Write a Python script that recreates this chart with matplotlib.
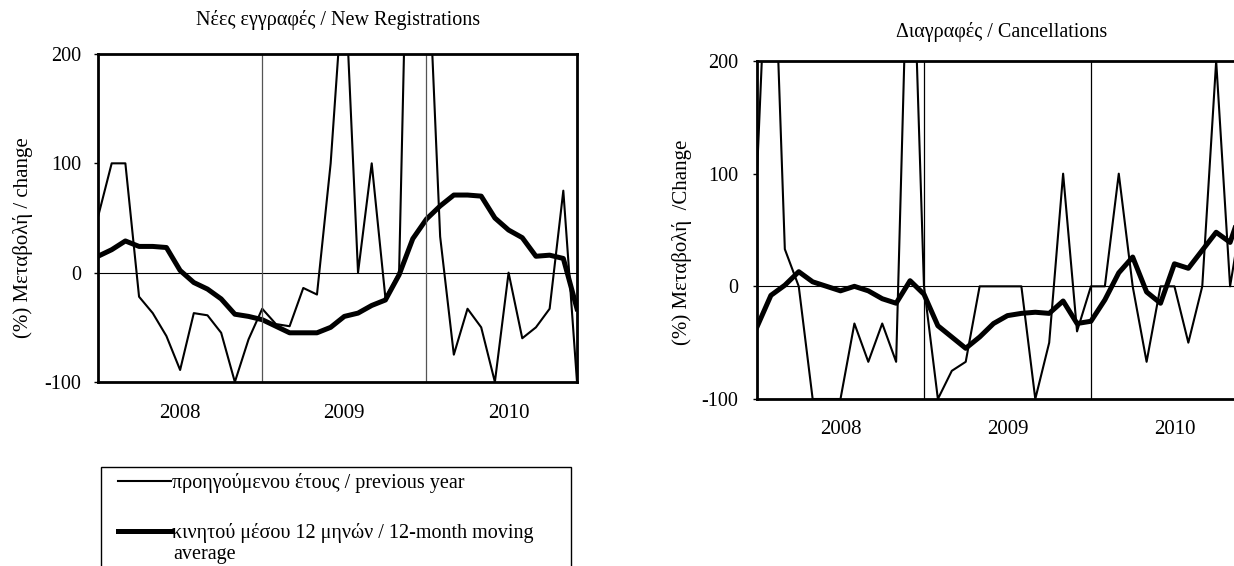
import matplotlib
matplotlib.use('Agg')
import matplotlib.pyplot as plt
from matplotlib.patches import Rectangle
from matplotlib.transforms import blended_transform_factory

plt.rcParams['font.family'] = ['Liberation Serif', 'DejaVu Serif']
plt.rcParams['font.size'] = 14.5
plt.rcParams['axes.unicode_minus'] = False

# monthly points, Jan 2008 - Dec 2010
months = list(range(36))
years = ['2008', '2009', '2010']
year_pos = [6, 18, 30]
year_lines = [12, 24]

# Nees eggrafes / New registrations
new_prev = [51, 100, 100, -22, -37, -58, -89, -37, -39, -55, -100, -61,
            -33, -47, -49, -14, -20, 100, 280, 0, 100, -23, 0, 560,
            325, 33, -75, -33, -50, -100, 0, -60, -50, -33, 75, -100]
new_ma = [15, 21, 29, 24, 24, 23, 2, -9, -15, -24, -38, -40,
          -43, -49, -55, -55, -55, -50, -40, -37, -30, -25, -2, 31,
          49, 61, 71, 71, 70, 50, 39, 32, 15, 16, 13, -33]

# Diagrafes / Cancellations
canc_prev = [100, 390, 33, 0, -100, -100, -100, -33, -67, -33, -67, 390,
             0, -100, -75, -67, 0, 0, 0, 0, -100, -50, 100, -40,
             0, 0, 100, 0, -67, 0, 0, -50, 0, 200, 0, 75]
canc_ma = [-36, -8, 1, 13, 4, 0, -4, 0, -4, -11, -15, 5,
           -7, -35, -45, -55, -45, -33, -26, -24, -23, -24, -13, -33,
           -31, -12, 12, 26, -5, -15, 20, 16, 32, 48, 39, 75]

yticks = [-100, 0, 100, 200]
lbl_prev = 'προηγούμενου έτους / previous year'
lbl_ma = 'κινητού μέσου 12 μηνών / 12-month moving'

W, H = 1234, 566
fig = plt.figure(figsize=(W / 100, H / 100), dpi=100)


def px_axes(x0, y0, x1, y1):
    return fig.add_axes([x0 / W, 1 - y1 / H, (x1 - x0) / W, (y1 - y0) / H])


def draw_panel(ax, prev, ma, grid_col, year_y, tick_pad):
    ax.plot(months, prev, color='black', lw=1.5)
    ax.plot(months, ma, color='black', lw=3.6)
    ax.axhline(0, color='black', lw=0.8)
    for x in year_lines:
        ax.axvline(x, color=grid_col, lw=0.9)
    ax.set_xlim(0, 35)
    ax.set_ylim(-100, 200)
    ax.set_yticks(yticks)
    ax.set_xticks([])
    ax.tick_params(axis='y', direction='out', length=3, width=1, pad=tick_pad, labelsize=14.5)
    for s in ax.spines.values():
        s.set_linewidth(2)
    trans = blended_transform_factory(ax.transData, ax.transAxes)
    for x, y in zip(year_pos, years):
        ax.text(x, year_y, y, transform=trans, ha='center', va='center', fontsize=15)


ax1 = px_axes(98, 54, 577, 382)
draw_panel(ax1, new_prev, new_ma, '#555555', -32 / 328, 9)
fig.text(338 / W, 1 - 20 / H, 'Νέες εγγραφές / New Registrations', ha='center', va='center', fontsize=14.5)
fig.text(23 / W, 1 - 238 / H, '(%) Μεταβολή / change', rotation=90, ha='center', va='center', fontsize=15)

ax2 = px_axes(757, 61, 1244, 399)
draw_panel(ax2, canc_prev, canc_ma, 'black', -30 / 338, 10.5)
fig.text(1002 / W, 1 - 32 / H, 'Διαγραφές / Cancellations', ha='center', va='center', fontsize=14.5)
fig.text(682 / W, 1 - 242 / H, '(%) Μεταβολή  /Change', rotation=90, ha='center', va='center', fontsize=15)

# legend under the left panel
h1, = ax1.plot([], [], color='black', lw=1.5)
h2, = ax1.plot([], [], color='black', lw=3.6)
fig.legend([h1, h2], [lbl_prev, lbl_ma], loc='upper left',
           bbox_to_anchor=(118 / W, 1 - 473 / H), frameon=False,
           borderpad=0, borderaxespad=0, handlelength=2.65, handletextpad=0.02,
           labelspacing=1.5, fontsize=14.5)
fig.text(173 / W, 1 - 555 / H, 'average', ha='left', va='center', fontsize=14.5)
fig.patches.append(Rectangle((101 / W, -0.05), 470 / W, 1 - 467 / H + 0.05,
                             transform=fig.transFigure, fill=False, lw=1, ec='black'))

fig.savefig('out.png', dpi=100)
